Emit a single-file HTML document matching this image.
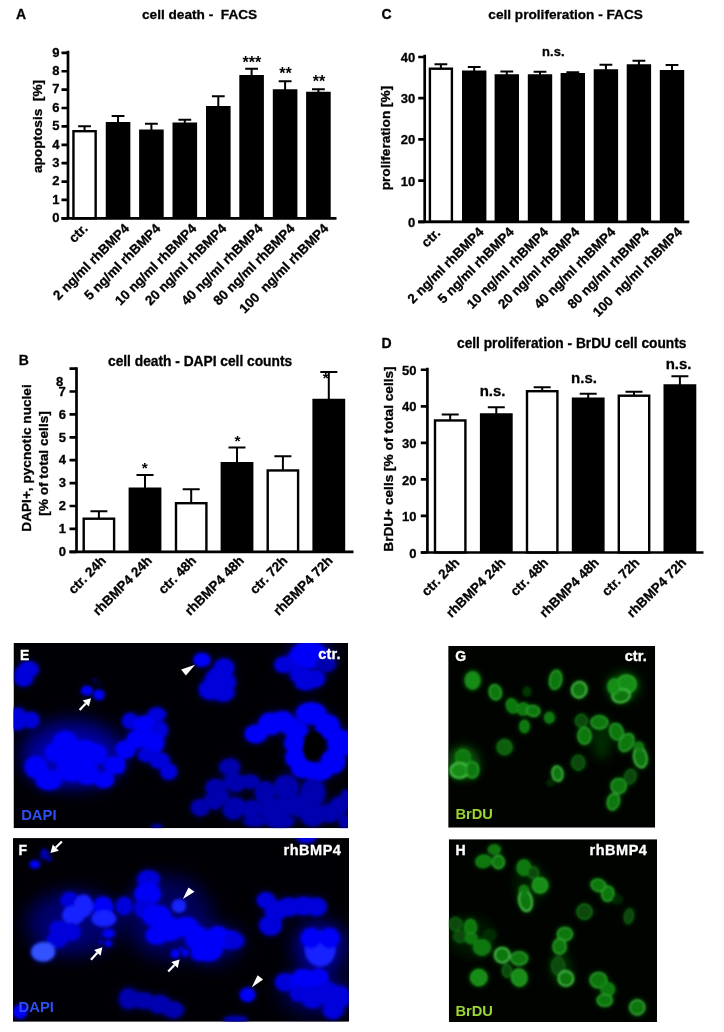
<!DOCTYPE html>
<html lang="en">
<head>
<meta charset="utf-8">
<title>Figure</title>
<style>html,body{margin:0;padding:0;background:#fff}svg{display:block}</style>
</head>
<body>
<svg width="724" height="1032" viewBox="0 0 724 1032" font-family="'Liberation Sans', sans-serif" font-weight="bold">
<defs>
<filter id="b1" x="-50%" y="-50%" width="200%" height="200%"><feGaussianBlur stdDeviation="1.2"/></filter>
<filter id="b08" x="-50%" y="-50%" width="200%" height="200%"><feGaussianBlur stdDeviation="0.9"/></filter>
<filter id="b15" x="-50%" y="-50%" width="200%" height="200%"><feGaussianBlur stdDeviation="1.6"/></filter>
<filter id="b25" x="-50%" y="-50%" width="200%" height="200%"><feGaussianBlur stdDeviation="3.5"/></filter>
<filter id="b2" x="-50%" y="-50%" width="200%" height="200%"><feGaussianBlur stdDeviation="2.5"/></filter>
<filter id="b3" x="-50%" y="-50%" width="200%" height="200%"><feGaussianBlur stdDeviation="5"/></filter>
<filter id="b4" x="-50%" y="-50%" width="200%" height="200%"><feGaussianBlur stdDeviation="9"/></filter>
<filter id="soft" x="-2%" y="-2%" width="104%" height="104%"><feGaussianBlur stdDeviation="0.45"/></filter>
<clipPath id="clipE"><rect x="13.5" y="643" width="334.5" height="185.2"/></clipPath>
<clipPath id="clipF"><rect x="13" y="838.1" width="336" height="183.7"/></clipPath>
<clipPath id="clipG"><rect x="448.2" y="646" width="207" height="181.7"/></clipPath>
<clipPath id="clipH"><rect x="448.8" y="839.2" width="208.2" height="182.9"/></clipPath>
</defs>
<rect width="724" height="1032" fill="#fff"/>
<g filter="url(#soft)">
<text x="16.00" y="18.80" font-size="14" text-anchor="start" fill="#000" stroke="#000" stroke-width="0.3">A</text>
<text x="142.00" y="19.00" font-size="13.65" text-anchor="start" fill="#000" stroke="#000" stroke-width="0.3">cell death -  FACS</text>
<text x="41.60" y="126.50" font-size="13.65" text-anchor="middle" fill="#000" stroke="#000" stroke-width="0.3" transform="rotate(-90 41.60 126.50)">apoptosis  [%]</text>
<path d="M84.55 131.00V126.25M78.15 126.25H90.95" stroke="#000" stroke-width="2" fill="none"/>
<rect x="73.45" y="131.20" width="22.20" height="87.10" fill="#fff" stroke="#000" stroke-width="2.4"/>
<path d="M118.05 123.00V116.00M111.65 116.00H124.45" stroke="#000" stroke-width="2" fill="none"/>
<rect x="105.75" y="122.00" width="24.60" height="96.30" fill="#000"/>
<path d="M151.40 130.50V123.75M145.00 123.75H157.80" stroke="#000" stroke-width="2" fill="none"/>
<rect x="139.10" y="129.50" width="24.60" height="88.80" fill="#000"/>
<path d="M184.80 123.50V119.75M178.40 119.75H191.20" stroke="#000" stroke-width="2" fill="none"/>
<rect x="172.50" y="122.50" width="24.60" height="95.80" fill="#000"/>
<path d="M218.30 107.00V96.25M211.90 96.25H224.70" stroke="#000" stroke-width="2" fill="none"/>
<rect x="206.00" y="106.00" width="24.60" height="112.30" fill="#000"/>
<path d="M251.60 76.00V68.75M245.20 68.75H258.00" stroke="#000" stroke-width="2" fill="none"/>
<rect x="239.30" y="75.00" width="24.60" height="143.30" fill="#000"/>
<path d="M285.10 90.25V81.25M278.70 81.25H291.50" stroke="#000" stroke-width="2" fill="none"/>
<rect x="272.80" y="89.25" width="24.60" height="129.05" fill="#000"/>
<path d="M318.40 92.75V89.25M312.00 89.25H324.80" stroke="#000" stroke-width="2" fill="none"/>
<rect x="306.10" y="91.75" width="24.60" height="126.55" fill="#000"/>
<path d="M68.00 50.65V219.65M61.50 218.30H336.50" stroke="#000" stroke-width="2.7" fill="none"/>
<path d="M61.50 218.30H68.00M61.50 199.92H68.00M61.50 181.54H68.00M61.50 163.16H68.00M61.50 144.78H68.00M61.50 126.40H68.00M61.50 108.02H68.00M61.50 89.64H68.00M61.50 71.26H68.00M61.50 52.88H68.00" stroke="#000" stroke-width="2.7" fill="none"/>
<text x="59.50" y="222.10" font-size="13" text-anchor="end" fill="#000" stroke="#000" stroke-width="0.3">0</text>
<text x="59.50" y="203.72" font-size="13" text-anchor="end" fill="#000" stroke="#000" stroke-width="0.3">1</text>
<text x="59.50" y="185.34" font-size="13" text-anchor="end" fill="#000" stroke="#000" stroke-width="0.3">2</text>
<text x="59.50" y="166.96" font-size="13" text-anchor="end" fill="#000" stroke="#000" stroke-width="0.3">3</text>
<text x="59.50" y="148.58" font-size="13" text-anchor="end" fill="#000" stroke="#000" stroke-width="0.3">4</text>
<text x="59.50" y="130.20" font-size="13" text-anchor="end" fill="#000" stroke="#000" stroke-width="0.3">5</text>
<text x="59.50" y="111.82" font-size="13" text-anchor="end" fill="#000" stroke="#000" stroke-width="0.3">6</text>
<text x="59.50" y="93.44" font-size="13" text-anchor="end" fill="#000" stroke="#000" stroke-width="0.3">7</text>
<text x="59.50" y="75.06" font-size="13" text-anchor="end" fill="#000" stroke="#000" stroke-width="0.3">8</text>
<text x="59.50" y="56.68" font-size="13" text-anchor="end" fill="#000" stroke="#000" stroke-width="0.3">9</text>
<text x="88.55" y="229.30" font-size="13.4" text-anchor="end" fill="#000" stroke="#000" stroke-width="0.3" transform="rotate(-45 88.55 229.30)">ctr.</text>
<text x="130.05" y="229.30" font-size="13.4" text-anchor="end" fill="#000" stroke="#000" stroke-width="0.3" transform="rotate(-45 130.05 229.30)">2 ng/ml rhBMP4</text>
<text x="161.40" y="229.30" font-size="13.4" text-anchor="end" fill="#000" stroke="#000" stroke-width="0.3" transform="rotate(-45 161.40 229.30)">5 ng/ml rhBMP4</text>
<text x="197.40" y="229.30" font-size="13.4" text-anchor="end" fill="#000" stroke="#000" stroke-width="0.3" transform="rotate(-45 197.40 229.30)">10 ng/ml rhBMP4</text>
<text x="227.30" y="229.30" font-size="13.4" text-anchor="end" fill="#000" stroke="#000" stroke-width="0.3" transform="rotate(-45 227.30 229.30)">20 ng/ml rhBMP4</text>
<text x="263.60" y="229.30" font-size="13.4" text-anchor="end" fill="#000" stroke="#000" stroke-width="0.3" transform="rotate(-45 263.60 229.30)">40 ng/ml rhBMP4</text>
<text x="295.50" y="229.30" font-size="13.4" text-anchor="end" fill="#000" stroke="#000" stroke-width="0.3" transform="rotate(-45 295.50 229.30)">80 ng/ml rhBMP4</text>
<text x="329.40" y="229.30" font-size="13.4" text-anchor="end" fill="#000" stroke="#000" stroke-width="0.3" transform="rotate(-45 329.40 229.30)">100  ng/ml rhBMP4</text>
<text x="251.90" y="68.00" font-size="16" text-anchor="middle" fill="#000" stroke="#000" stroke-width="0">***</text>
<text x="285.50" y="79.30" font-size="16" text-anchor="middle" fill="#000" stroke="#000" stroke-width="0">**</text>
<text x="319.00" y="87.30" font-size="16" text-anchor="middle" fill="#000" stroke="#000" stroke-width="0">**</text>
<text x="381.50" y="19.00" font-size="14" text-anchor="start" fill="#000" stroke="#000" stroke-width="0.3">C</text>
<text x="488.30" y="19.20" font-size="13.65" text-anchor="start" fill="#000" stroke="#000" stroke-width="0.3">cell proliferation - FACS</text>
<text x="390.30" y="138.00" font-size="13.65" text-anchor="middle" fill="#000" stroke="#000" stroke-width="0.3" transform="rotate(-90 390.30 138.00)">proliferation [%]</text>
<path d="M440.90 68.50V64.25M434.50 64.25H447.30" stroke="#000" stroke-width="2" fill="none"/>
<rect x="429.90" y="68.70" width="22.00" height="153.10" fill="#fff" stroke="#000" stroke-width="2.4"/>
<path d="M474.20 71.50V67.00M467.80 67.00H480.60" stroke="#000" stroke-width="2" fill="none"/>
<rect x="462.00" y="70.50" width="24.40" height="151.30" fill="#000"/>
<path d="M506.80 75.25V71.50M500.40 71.50H513.20" stroke="#000" stroke-width="2" fill="none"/>
<rect x="494.60" y="74.25" width="24.40" height="147.55" fill="#000"/>
<path d="M540.00 75.25V71.75M533.60 71.75H546.40" stroke="#000" stroke-width="2" fill="none"/>
<rect x="527.80" y="74.25" width="24.40" height="147.55" fill="#000"/>
<path d="M572.80 74.00V72.25M566.40 72.25H579.20" stroke="#000" stroke-width="2" fill="none"/>
<rect x="560.60" y="73.00" width="24.40" height="148.80" fill="#000"/>
<path d="M605.90 70.25V64.75M599.50 64.75H612.30" stroke="#000" stroke-width="2" fill="none"/>
<rect x="593.70" y="69.25" width="24.40" height="152.55" fill="#000"/>
<path d="M638.90 65.25V60.75M632.50 60.75H645.30" stroke="#000" stroke-width="2" fill="none"/>
<rect x="626.70" y="64.25" width="24.40" height="157.55" fill="#000"/>
<path d="M672.00 71.00V65.00M665.60 65.00H678.40" stroke="#000" stroke-width="2" fill="none"/>
<rect x="659.80" y="70.00" width="24.40" height="151.80" fill="#000"/>
<path d="M424.70 54.85V223.15M418.20 221.80H689.30" stroke="#000" stroke-width="2.7" fill="none"/>
<path d="M418.20 221.80H424.70M418.20 180.60H424.70M418.20 139.40H424.70M418.20 98.20H424.70M418.20 57.00H424.70" stroke="#000" stroke-width="2.7" fill="none"/>
<text x="415.20" y="226.70" font-size="13" text-anchor="end" fill="#000" stroke="#000" stroke-width="0.3">0</text>
<text x="415.20" y="185.50" font-size="13" text-anchor="end" fill="#000" stroke="#000" stroke-width="0.3">10</text>
<text x="415.20" y="144.30" font-size="13" text-anchor="end" fill="#000" stroke="#000" stroke-width="0.3">20</text>
<text x="415.20" y="103.10" font-size="13" text-anchor="end" fill="#000" stroke="#000" stroke-width="0.3">30</text>
<text x="415.20" y="61.90" font-size="13" text-anchor="end" fill="#000" stroke="#000" stroke-width="0.3">40</text>
<text x="441.10" y="233.80" font-size="13.4" text-anchor="end" fill="#000" stroke="#000" stroke-width="0.3" transform="rotate(-45 441.10 233.80)">ctr.</text>
<text x="484.60" y="232.80" font-size="13.4" text-anchor="end" fill="#000" stroke="#000" stroke-width="0.3" transform="rotate(-45 484.60 232.80)">2 ng/ml rhBMP4</text>
<text x="514.80" y="232.80" font-size="13.4" text-anchor="end" fill="#000" stroke="#000" stroke-width="0.3" transform="rotate(-45 514.80 232.80)">5 ng/ml rhBMP4</text>
<text x="549.00" y="232.80" font-size="13.4" text-anchor="end" fill="#000" stroke="#000" stroke-width="0.3" transform="rotate(-45 549.00 232.80)">10 ng/ml rhBMP4</text>
<text x="580.40" y="232.80" font-size="13.4" text-anchor="end" fill="#000" stroke="#000" stroke-width="0.3" transform="rotate(-45 580.40 232.80)">20 ng/ml rhBMP4</text>
<text x="616.30" y="232.80" font-size="13.4" text-anchor="end" fill="#000" stroke="#000" stroke-width="0.3" transform="rotate(-45 616.30 232.80)">40 ng/ml rhBMP4</text>
<text x="649.90" y="232.80" font-size="13.4" text-anchor="end" fill="#000" stroke="#000" stroke-width="0.3" transform="rotate(-45 649.90 232.80)">80 ng/ml rhBMP4</text>
<text x="683.00" y="232.80" font-size="13.4" text-anchor="end" fill="#000" stroke="#000" stroke-width="0.3" transform="rotate(-45 683.00 232.80)">100  ng/ml rhBMP4</text>
<text x="553.30" y="56.20" font-size="13" text-anchor="middle" fill="#000" stroke="#000" stroke-width="0.3">n.s.</text>
<text x="18.70" y="365.00" font-size="14" text-anchor="start" fill="#000" stroke="#000" stroke-width="0.3">B</text>
<text x="108.00" y="366.20" font-size="13.75" text-anchor="start" fill="#000" stroke="#000" stroke-width="0.3">cell death - DAPI cell counts</text>
<text x="30.80" y="458.00" font-size="13.65" text-anchor="middle" fill="#000" stroke="#000" stroke-width="0.3" transform="rotate(-90 30.80 458.00)">DAPI+, pycnotic nuclei</text>
<text x="48.30" y="463.50" font-size="13.65" text-anchor="middle" fill="#000" stroke="#000" stroke-width="0.3" transform="rotate(-90 48.30 463.50)">[% of total cells]</text>
<path d="M98.90 518.50V511.25M90.40 511.25H107.40" stroke="#000" stroke-width="2" fill="none"/>
<rect x="83.70" y="518.70" width="30.40" height="33.10" fill="#fff" stroke="#000" stroke-width="2.4"/>
<path d="M145.00 488.50V475.00M136.50 475.00H153.50" stroke="#000" stroke-width="2" fill="none"/>
<rect x="128.60" y="487.50" width="32.80" height="64.30" fill="#000"/>
<path d="M191.20 503.00V489.25M182.70 489.25H199.70" stroke="#000" stroke-width="2" fill="none"/>
<rect x="176.00" y="503.20" width="30.40" height="48.60" fill="#fff" stroke="#000" stroke-width="2.4"/>
<path d="M237.00 463.00V447.50M228.50 447.50H245.50" stroke="#000" stroke-width="2" fill="none"/>
<rect x="220.60" y="462.00" width="32.80" height="89.80" fill="#000"/>
<path d="M282.90 470.25V456.25M274.40 456.25H291.40" stroke="#000" stroke-width="2" fill="none"/>
<rect x="267.70" y="470.45" width="30.40" height="81.35" fill="#fff" stroke="#000" stroke-width="2.4"/>
<path d="M328.80 399.75V372.00M320.30 372.00H337.30" stroke="#000" stroke-width="2" fill="none"/>
<rect x="312.40" y="398.75" width="32.80" height="153.05" fill="#000"/>
<path d="M76.50 367.15V553.15M69.50 551.80H353.50" stroke="#000" stroke-width="2.7" fill="none"/>
<path d="M69.50 551.80H76.50M69.50 528.90H76.50M69.50 506.00H76.50M69.50 483.10H76.50M69.50 460.20H76.50M69.50 437.30H76.50M69.50 414.40H76.50M69.50 391.50H76.50M69.50 368.60H76.50" stroke="#000" stroke-width="2.7" fill="none"/>
<text x="66.00" y="556.00" font-size="13" text-anchor="end" fill="#000" stroke="#000" stroke-width="0.3">0</text>
<text x="66.00" y="533.10" font-size="13" text-anchor="end" fill="#000" stroke="#000" stroke-width="0.3">1</text>
<text x="66.00" y="510.20" font-size="13" text-anchor="end" fill="#000" stroke="#000" stroke-width="0.3">2</text>
<text x="66.00" y="487.30" font-size="13" text-anchor="end" fill="#000" stroke="#000" stroke-width="0.3">3</text>
<text x="66.00" y="464.40" font-size="13" text-anchor="end" fill="#000" stroke="#000" stroke-width="0.3">4</text>
<text x="66.00" y="441.50" font-size="13" text-anchor="end" fill="#000" stroke="#000" stroke-width="0.3">5</text>
<text x="66.00" y="418.60" font-size="13" text-anchor="end" fill="#000" stroke="#000" stroke-width="0.3">6</text>
<text x="65.70" y="396.00" font-size="13" text-anchor="end" fill="#000" stroke="#000" stroke-width="0.3">7</text>
<text x="63.20" y="385.60" font-size="13" text-anchor="end" fill="#000" stroke="#000" stroke-width="0.3">8</text>
<text x="106.80" y="561.50" font-size="13.4" text-anchor="end" fill="#000" stroke="#000" stroke-width="0.3" transform="rotate(-45 106.80 561.50)">ctr. 24h</text>
<text x="152.90" y="561.50" font-size="13.4" text-anchor="end" fill="#000" stroke="#000" stroke-width="0.3" transform="rotate(-45 152.90 561.50)">rhBMP4 24h</text>
<text x="197.00" y="561.50" font-size="13.4" text-anchor="end" fill="#000" stroke="#000" stroke-width="0.3" transform="rotate(-45 197.00 561.50)">ctr. 48h</text>
<text x="244.90" y="561.50" font-size="13.4" text-anchor="end" fill="#000" stroke="#000" stroke-width="0.3" transform="rotate(-45 244.90 561.50)">rhBMP4 48h</text>
<text x="288.30" y="561.50" font-size="13.4" text-anchor="end" fill="#000" stroke="#000" stroke-width="0.3" transform="rotate(-45 288.30 561.50)">ctr. 72h</text>
<text x="333.60" y="561.50" font-size="13.4" text-anchor="end" fill="#000" stroke="#000" stroke-width="0.3" transform="rotate(-45 333.60 561.50)">rhBMP4 72h</text>
<text x="144.80" y="472.80" font-size="15.5" text-anchor="middle" fill="#000" stroke="#000" stroke-width="0">*</text>
<text x="237.40" y="445.50" font-size="15.5" text-anchor="middle" fill="#000" stroke="#000" stroke-width="0">*</text>
<text x="325.80" y="382.70" font-size="15.5" text-anchor="middle" fill="#000" stroke="#000" stroke-width="0">*</text>
<text x="381.50" y="347.50" font-size="14" text-anchor="start" fill="#000" stroke="#000" stroke-width="0.3">D</text>
<text x="457.00" y="348.00" font-size="13.72" text-anchor="start" fill="#000" stroke="#000" stroke-width="0.3">cell proliferation - BrDU cell counts</text>
<text x="393.00" y="459.00" font-size="13.65" text-anchor="middle" fill="#000" stroke="#000" stroke-width="0.3" transform="rotate(-90 393.00 459.00)">BrDU+ cells [% of total cells]</text>
<path d="M450.20 420.25V414.50M441.70 414.50H458.70" stroke="#000" stroke-width="2" fill="none"/>
<rect x="435.00" y="420.45" width="30.40" height="132.05" fill="#fff" stroke="#000" stroke-width="2.4"/>
<path d="M496.30 414.25V407.25M487.80 407.25H504.80" stroke="#000" stroke-width="2" fill="none"/>
<rect x="479.90" y="413.25" width="32.80" height="139.25" fill="#000"/>
<path d="M542.20 391.00V387.25M533.70 387.25H550.70" stroke="#000" stroke-width="2" fill="none"/>
<rect x="527.00" y="391.20" width="30.40" height="161.30" fill="#fff" stroke="#000" stroke-width="2.4"/>
<path d="M588.20 398.50V393.75M579.70 393.75H596.70" stroke="#000" stroke-width="2" fill="none"/>
<rect x="571.80" y="397.50" width="32.80" height="155.00" fill="#000"/>
<path d="M634.00 395.50V391.75M625.50 391.75H642.50" stroke="#000" stroke-width="2" fill="none"/>
<rect x="618.80" y="395.70" width="30.40" height="156.80" fill="#fff" stroke="#000" stroke-width="2.4"/>
<path d="M679.90 385.25V376.25M671.40 376.25H688.40" stroke="#000" stroke-width="2" fill="none"/>
<rect x="663.50" y="384.25" width="32.80" height="168.25" fill="#000"/>
<path d="M427.40 367.65V553.85M420.80 552.50H703.50" stroke="#000" stroke-width="2.7" fill="none"/>
<path d="M420.80 552.50H427.40M420.80 515.95H427.40M420.80 479.40H427.40M420.80 442.85H427.40M420.80 406.30H427.40M420.80 369.75H427.40" stroke="#000" stroke-width="2.7" fill="none"/>
<text x="416.40" y="557.60" font-size="13" text-anchor="end" fill="#000" stroke="#000" stroke-width="0.3">0</text>
<text x="416.40" y="521.05" font-size="13" text-anchor="end" fill="#000" stroke="#000" stroke-width="0.3">10</text>
<text x="416.40" y="484.50" font-size="13" text-anchor="end" fill="#000" stroke="#000" stroke-width="0.3">20</text>
<text x="416.40" y="447.95" font-size="13" text-anchor="end" fill="#000" stroke="#000" stroke-width="0.3">30</text>
<text x="416.40" y="411.40" font-size="13" text-anchor="end" fill="#000" stroke="#000" stroke-width="0.3">40</text>
<text x="416.40" y="374.85" font-size="13" text-anchor="end" fill="#000" stroke="#000" stroke-width="0.3">50</text>
<text x="460.20" y="563.50" font-size="13.4" text-anchor="end" fill="#000" stroke="#000" stroke-width="0.3" transform="rotate(-45 460.20 563.50)">ctr. 24h</text>
<text x="506.30" y="563.50" font-size="13.4" text-anchor="end" fill="#000" stroke="#000" stroke-width="0.3" transform="rotate(-45 506.30 563.50)">rhBMP4 24h</text>
<text x="549.00" y="563.50" font-size="13.4" text-anchor="end" fill="#000" stroke="#000" stroke-width="0.3" transform="rotate(-45 549.00 563.50)">ctr. 48h</text>
<text x="599.80" y="563.50" font-size="13.4" text-anchor="end" fill="#000" stroke="#000" stroke-width="0.3" transform="rotate(-45 599.80 563.50)">rhBMP4 48h</text>
<text x="640.40" y="563.50" font-size="13.4" text-anchor="end" fill="#000" stroke="#000" stroke-width="0.3" transform="rotate(-45 640.40 563.50)">ctr. 72h</text>
<text x="687.10" y="563.50" font-size="13.4" text-anchor="end" fill="#000" stroke="#000" stroke-width="0.3" transform="rotate(-45 687.10 563.50)">rhBMP4 72h</text>
<text x="492.60" y="396.30" font-size="15" text-anchor="middle" fill="#000" stroke="#000" stroke-width="0.3">n.s.</text>
<text x="584.00" y="383.30" font-size="15" text-anchor="middle" fill="#000" stroke="#000" stroke-width="0.3">n.s.</text>
<text x="678.60" y="369.30" font-size="15" text-anchor="middle" fill="#000" stroke="#000" stroke-width="0.3">n.s.</text>
</g>
<g clip-path="url(#clipE)">
<rect x="13.5" y="643" width="334.5" height="185.2" fill="#000004"/>
<g filter="url(#b4)">
<ellipse cx="72.6" cy="754.1" rx="51.5" ry="34.1" fill="#0204a0" fill-opacity="0.9"/>
<ellipse cx="72.6" cy="761.5" rx="36.8" ry="20.2" fill="#0306e8" fill-opacity="0.5"/>
<ellipse cx="311.0" cy="652.9" rx="20.2" ry="12.9" fill="#0306e8" fill-opacity="0.5"/>
</g>
<g filter="url(#b25)">
<ellipse cx="23.8" cy="678.7" rx="10.8" ry="9.1" fill="#0000a4" fill-opacity="0.4"/>
<ellipse cx="28.4" cy="669.4" rx="12.0" ry="9.6" fill="#0000a4" fill-opacity="0.4"/>
<ellipse cx="21.0" cy="673.1" rx="7.2" ry="7.2" fill="#0000a4" fill-opacity="0.4"/>
<ellipse cx="86.9" cy="690.6" rx="6.8" ry="5.7" fill="#0000a4" fill-opacity="0.4"/>
<ellipse cx="98.9" cy="694.7" rx="6.5" ry="6.0" fill="#0000a4" fill-opacity="0.4"/>
<ellipse cx="94.7" cy="680.1" rx="2.0" ry="2.0" fill="#0000a4" fill-opacity="0.4"/>
<ellipse cx="100.2" cy="683.8" rx="1.2" ry="1.2" fill="#0000a4" fill-opacity="0.4"/>
<ellipse cx="17.4" cy="719.1" rx="12.0" ry="13.1" fill="#0000a4" fill-opacity="0.4"/>
<ellipse cx="31.2" cy="720.1" rx="9.6" ry="9.6" fill="#0000a4" fill-opacity="0.4"/>
<ellipse cx="35.8" cy="767.0" rx="13.1" ry="13.1" fill="#0000a4" fill-opacity="0.4"/>
<ellipse cx="48.7" cy="779.9" rx="15.6" ry="12.0" fill="#0000a4" fill-opacity="0.4"/>
<ellipse cx="56.0" cy="752.3" rx="13.1" ry="12.0" fill="#0000a4" fill-opacity="0.4"/>
<ellipse cx="65.2" cy="741.2" rx="14.3" ry="12.0" fill="#0000a4" fill-opacity="0.4"/>
<ellipse cx="70.7" cy="767.0" rx="16.8" ry="16.8" fill="#0000a4" fill-opacity="0.4"/>
<ellipse cx="83.6" cy="754.1" rx="19.1" ry="16.8" fill="#0000a4" fill-opacity="0.4"/>
<ellipse cx="96.5" cy="754.1" rx="12.0" ry="12.0" fill="#0000a4" fill-opacity="0.4"/>
<ellipse cx="87.3" cy="774.4" rx="14.3" ry="12.0" fill="#0000a4" fill-opacity="0.4"/>
<ellipse cx="103.9" cy="779.9" rx="12.0" ry="9.6" fill="#0000a4" fill-opacity="0.4"/>
<ellipse cx="114.0" cy="765.2" rx="12.0" ry="10.8" fill="#0000a4" fill-opacity="0.4"/>
<ellipse cx="201.9" cy="659.9" rx="10.0" ry="8.3" fill="#0000a4" fill-opacity="0.4"/>
<ellipse cx="224.0" cy="667.6" rx="12.0" ry="10.8" fill="#0000a4" fill-opacity="0.4"/>
<ellipse cx="219.4" cy="679.6" rx="16.8" ry="14.3" fill="#0000a4" fill-opacity="0.4"/>
<ellipse cx="210.2" cy="689.7" rx="13.1" ry="12.0" fill="#0000a4" fill-opacity="0.4"/>
<ellipse cx="223.1" cy="692.5" rx="13.1" ry="10.8" fill="#0000a4" fill-opacity="0.4"/>
<ellipse cx="229.5" cy="682.3" rx="7.2" ry="7.2" fill="#0000a4" fill-opacity="0.4"/>
<ellipse cx="130.1" cy="721.0" rx="9.6" ry="9.6" fill="#0000a4" fill-opacity="0.4"/>
<ellipse cx="156.8" cy="714.5" rx="10.8" ry="8.3" fill="#0000a4" fill-opacity="0.4"/>
<ellipse cx="144.8" cy="726.5" rx="13.1" ry="13.1" fill="#0000a4" fill-opacity="0.4"/>
<ellipse cx="159.6" cy="730.2" rx="9.6" ry="10.8" fill="#0000a4" fill-opacity="0.4"/>
<ellipse cx="136.6" cy="739.4" rx="12.0" ry="10.8" fill="#0000a4" fill-opacity="0.4"/>
<ellipse cx="153.1" cy="743.1" rx="13.1" ry="12.0" fill="#0000a4" fill-opacity="0.4"/>
<ellipse cx="125.5" cy="749.5" rx="12.0" ry="10.8" fill="#0000a4" fill-opacity="0.4"/>
<ellipse cx="145.8" cy="755.0" rx="9.6" ry="8.3" fill="#0000a4" fill-opacity="0.4"/>
<ellipse cx="159.6" cy="760.6" rx="12.0" ry="9.6" fill="#0000a4" fill-opacity="0.4"/>
<ellipse cx="168.8" cy="771.6" rx="10.0" ry="9.6" fill="#0000a4" fill-opacity="0.4"/>
<ellipse cx="120.9" cy="765.2" rx="4.8" ry="9.6" fill="#0000a4" fill-opacity="0.4"/>
<ellipse cx="229.5" cy="767.0" rx="12.0" ry="9.6" fill="#0000a4" fill-opacity="0.4"/>
<ellipse cx="234.1" cy="781.7" rx="12.0" ry="9.6" fill="#0000a4" fill-opacity="0.4"/>
<ellipse cx="215.7" cy="787.2" rx="12.0" ry="9.6" fill="#0000a4" fill-opacity="0.4"/>
<ellipse cx="213.9" cy="800.1" rx="10.8" ry="10.8" fill="#0000a4" fill-opacity="0.4"/>
<ellipse cx="200.1" cy="807.5" rx="10.8" ry="10.0" fill="#0000a4" fill-opacity="0.4"/>
<ellipse cx="233.2" cy="809.3" rx="12.0" ry="12.0" fill="#0000a4" fill-opacity="0.4"/>
<ellipse cx="223.1" cy="796.5" rx="7.2" ry="7.2" fill="#0000a4" fill-opacity="0.4"/>
<ellipse cx="156.8" cy="826.3" rx="7.2" ry="2.3" fill="#0000a4" fill-opacity="0.4"/>
<ellipse cx="283.4" cy="664.8" rx="10.8" ry="9.6" fill="#0000a4" fill-opacity="0.4"/>
<ellipse cx="296.3" cy="660.2" rx="12.0" ry="10.8" fill="#0000a4" fill-opacity="0.4"/>
<ellipse cx="309.1" cy="654.7" rx="21.6" ry="15.6" fill="#0000a4" fill-opacity="0.4"/>
<ellipse cx="299.9" cy="674.1" rx="12.0" ry="10.8" fill="#0000a4" fill-opacity="0.4"/>
<ellipse cx="312.8" cy="678.7" rx="14.3" ry="10.8" fill="#0000a4" fill-opacity="0.4"/>
<ellipse cx="305.5" cy="684.2" rx="12.0" ry="7.2" fill="#0000a4" fill-opacity="0.4"/>
<ellipse cx="325.7" cy="663.9" rx="12.0" ry="9.6" fill="#0000a4" fill-opacity="0.4"/>
<ellipse cx="255.8" cy="733.9" rx="13.1" ry="10.8" fill="#0000a4" fill-opacity="0.4"/>
<ellipse cx="270.5" cy="723.7" rx="14.3" ry="13.1" fill="#0000a4" fill-opacity="0.4"/>
<ellipse cx="282.5" cy="721.0" rx="13.1" ry="12.0" fill="#0000a4" fill-opacity="0.4"/>
<ellipse cx="290.7" cy="726.5" rx="12.0" ry="10.8" fill="#0000a4" fill-opacity="0.4"/>
<ellipse cx="311.0" cy="713.6" rx="17.9" ry="13.1" fill="#0000a4" fill-opacity="0.4"/>
<ellipse cx="327.6" cy="726.5" rx="14.3" ry="14.3" fill="#0000a4" fill-opacity="0.4"/>
<ellipse cx="338.6" cy="743.1" rx="13.1" ry="16.8" fill="#0000a4" fill-opacity="0.4"/>
<ellipse cx="333.1" cy="761.5" rx="14.3" ry="14.3" fill="#0000a4" fill-opacity="0.4"/>
<ellipse cx="318.3" cy="771.6" rx="16.8" ry="10.8" fill="#0000a4" fill-opacity="0.4"/>
<ellipse cx="303.6" cy="768.8" rx="14.3" ry="10.8" fill="#0000a4" fill-opacity="0.4"/>
<ellipse cx="295.3" cy="757.8" rx="12.0" ry="12.0" fill="#0000a4" fill-opacity="0.4"/>
<ellipse cx="294.4" cy="743.1" rx="12.0" ry="12.0" fill="#0000a4" fill-opacity="0.4"/>
<ellipse cx="300.9" cy="730.2" rx="8.3" ry="8.3" fill="#0000a4" fill-opacity="0.4"/>
<ellipse cx="347.8" cy="743.1" rx="7.2" ry="14.3" fill="#0000a4" fill-opacity="0.4"/>
<ellipse cx="231.8" cy="768.8" rx="7.2" ry="10.8" fill="#0000a4" fill-opacity="0.4"/>
<ellipse cx="235.5" cy="783.6" rx="10.8" ry="9.6" fill="#0000a4" fill-opacity="0.4"/>
<ellipse cx="250.2" cy="781.7" rx="10.8" ry="8.3" fill="#0000a4" fill-opacity="0.4"/>
<ellipse cx="235.5" cy="805.7" rx="10.8" ry="9.6" fill="#0000a4" fill-opacity="0.4"/>
<ellipse cx="252.1" cy="809.3" rx="12.0" ry="10.8" fill="#0000a4" fill-opacity="0.4"/>
<ellipse cx="265.0" cy="792.8" rx="12.0" ry="13.1" fill="#0000a4" fill-opacity="0.4"/>
<ellipse cx="271.4" cy="809.3" rx="13.1" ry="13.1" fill="#0000a4" fill-opacity="0.4"/>
<ellipse cx="286.1" cy="787.2" rx="14.3" ry="14.3" fill="#0000a4" fill-opacity="0.4"/>
<ellipse cx="285.2" cy="805.7" rx="13.1" ry="12.0" fill="#0000a4" fill-opacity="0.4"/>
<ellipse cx="299.9" cy="805.7" rx="13.1" ry="13.1" fill="#0000a4" fill-opacity="0.4"/>
<ellipse cx="312.8" cy="792.8" rx="14.3" ry="16.8" fill="#0000a4" fill-opacity="0.4"/>
<ellipse cx="312.8" cy="814.9" rx="14.3" ry="13.1" fill="#0000a4" fill-opacity="0.4"/>
<ellipse cx="329.4" cy="813.0" rx="13.1" ry="10.8" fill="#0000a4" fill-opacity="0.4"/>
<ellipse cx="339.5" cy="805.7" rx="10.8" ry="10.8" fill="#0000a4" fill-opacity="0.4"/>
<ellipse cx="346.0" cy="796.5" rx="6.0" ry="8.3" fill="#0000a4" fill-opacity="0.4"/>
<ellipse cx="344.1" cy="821.3" rx="6.0" ry="8.3" fill="#0000a4" fill-opacity="0.4"/>
<ellipse cx="279.7" cy="821.3" rx="16.8" ry="8.3" fill="#0000a4" fill-opacity="0.4"/>
<ellipse cx="254.8" cy="821.3" rx="13.1" ry="6.0" fill="#0000a4" fill-opacity="0.4"/>
</g>
<g filter="url(#b15)">
<ellipse cx="23.8" cy="678.7" rx="9.3" ry="7.8" fill="#0101da"/>
<ellipse cx="28.4" cy="669.4" rx="10.3" ry="8.3" fill="#0101da"/>
<ellipse cx="21.0" cy="673.1" rx="6.2" ry="6.2" fill="#0101da"/>
<ellipse cx="86.9" cy="690.6" rx="5.8" ry="4.9" fill="#0303f8"/>
<ellipse cx="98.9" cy="694.7" rx="5.6" ry="5.2" fill="#0303f8"/>
<ellipse cx="94.7" cy="680.1" rx="1.7" ry="1.7" fill="#0000ae"/>
<ellipse cx="100.2" cy="683.8" rx="1.0" ry="1.0" fill="#0000ae"/>
<ellipse cx="17.4" cy="719.1" rx="10.3" ry="11.3" fill="#0101da"/>
<ellipse cx="31.2" cy="720.1" rx="8.3" ry="8.3" fill="#0101da"/>
<ellipse cx="35.8" cy="767.0" rx="11.3" ry="11.3" fill="#0303f8"/>
<ellipse cx="48.7" cy="779.9" rx="13.4" ry="10.3" fill="#0303f8"/>
<ellipse cx="56.0" cy="752.3" rx="11.3" ry="10.3" fill="#0303f8"/>
<ellipse cx="65.2" cy="741.2" rx="12.3" ry="10.3" fill="#0303f8"/>
<ellipse cx="70.7" cy="767.0" rx="14.4" ry="14.4" fill="#0303f8"/>
<ellipse cx="83.6" cy="754.1" rx="16.5" ry="14.4" fill="#0303f8"/>
<ellipse cx="96.5" cy="754.1" rx="10.3" ry="10.3" fill="#0303f8"/>
<ellipse cx="87.3" cy="774.4" rx="12.3" ry="10.3" fill="#0303f8"/>
<ellipse cx="103.9" cy="779.9" rx="10.3" ry="8.3" fill="#0303f8"/>
<ellipse cx="114.0" cy="765.2" rx="10.3" ry="9.3" fill="#0303f8"/>
<ellipse cx="201.9" cy="659.9" rx="8.6" ry="7.2" fill="#0303f8"/>
<ellipse cx="224.0" cy="667.6" rx="10.3" ry="9.3" fill="#0101da"/>
<ellipse cx="219.4" cy="679.6" rx="14.4" ry="12.3" fill="#0101da"/>
<ellipse cx="210.2" cy="689.7" rx="11.3" ry="10.3" fill="#0101da"/>
<ellipse cx="223.1" cy="692.5" rx="11.3" ry="9.3" fill="#0101da"/>
<ellipse cx="229.5" cy="682.3" rx="6.2" ry="6.2" fill="#0101da"/>
<ellipse cx="130.1" cy="721.0" rx="8.3" ry="8.3" fill="#0101da"/>
<ellipse cx="156.8" cy="714.5" rx="9.3" ry="7.2" fill="#0101da"/>
<ellipse cx="144.8" cy="726.5" rx="11.3" ry="11.3" fill="#0303f8"/>
<ellipse cx="159.6" cy="730.2" rx="8.3" ry="9.3" fill="#0101da"/>
<ellipse cx="136.6" cy="739.4" rx="10.3" ry="9.3" fill="#0303f8"/>
<ellipse cx="153.1" cy="743.1" rx="11.3" ry="10.3" fill="#0303f8"/>
<ellipse cx="125.5" cy="749.5" rx="10.3" ry="9.3" fill="#0303f8"/>
<ellipse cx="145.8" cy="755.0" rx="8.3" ry="7.2" fill="#0101da"/>
<ellipse cx="159.6" cy="760.6" rx="10.3" ry="8.3" fill="#0101da"/>
<ellipse cx="168.8" cy="771.6" rx="8.6" ry="8.3" fill="#0101da"/>
<ellipse cx="120.9" cy="765.2" rx="4.1" ry="8.3" fill="#0303f8"/>
<ellipse cx="229.5" cy="767.0" rx="10.3" ry="8.3" fill="#0000ae"/>
<ellipse cx="234.1" cy="781.7" rx="10.3" ry="8.3" fill="#0000ae"/>
<ellipse cx="215.7" cy="787.2" rx="10.3" ry="8.3" fill="#0000ae"/>
<ellipse cx="213.9" cy="800.1" rx="9.3" ry="9.3" fill="#0000ae"/>
<ellipse cx="200.1" cy="807.5" rx="9.3" ry="8.6" fill="#0000ae"/>
<ellipse cx="233.2" cy="809.3" rx="10.3" ry="10.3" fill="#0000ae"/>
<ellipse cx="223.1" cy="796.5" rx="6.2" ry="6.2" fill="#0000ae"/>
<ellipse cx="156.8" cy="826.3" rx="6.2" ry="2.0" fill="#0000ae"/>
<ellipse cx="283.4" cy="664.8" rx="9.3" ry="8.3" fill="#0101da"/>
<ellipse cx="296.3" cy="660.2" rx="10.3" ry="9.3" fill="#0101da"/>
<ellipse cx="309.1" cy="654.7" rx="18.6" ry="13.4" fill="#0303f8"/>
<ellipse cx="299.9" cy="674.1" rx="10.3" ry="9.3" fill="#0101da"/>
<ellipse cx="312.8" cy="678.7" rx="12.3" ry="9.3" fill="#0101da"/>
<ellipse cx="305.5" cy="684.2" rx="10.3" ry="6.2" fill="#0101da"/>
<ellipse cx="325.7" cy="663.9" rx="10.3" ry="8.3" fill="#0000ae"/>
<ellipse cx="255.8" cy="733.9" rx="11.3" ry="9.3" fill="#0303f8"/>
<ellipse cx="270.5" cy="723.7" rx="12.3" ry="11.3" fill="#0303f8"/>
<ellipse cx="282.5" cy="721.0" rx="11.3" ry="10.3" fill="#0303f8"/>
<ellipse cx="290.7" cy="726.5" rx="10.3" ry="9.3" fill="#0303f8"/>
<ellipse cx="311.0" cy="713.6" rx="15.5" ry="11.3" fill="#0303f8"/>
<ellipse cx="327.6" cy="726.5" rx="12.3" ry="12.3" fill="#0303f8"/>
<ellipse cx="338.6" cy="743.1" rx="11.3" ry="14.4" fill="#0303f8"/>
<ellipse cx="333.1" cy="761.5" rx="12.3" ry="12.3" fill="#0303f8"/>
<ellipse cx="318.3" cy="771.6" rx="14.4" ry="9.3" fill="#0303f8"/>
<ellipse cx="303.6" cy="768.8" rx="12.3" ry="9.3" fill="#0303f8"/>
<ellipse cx="295.3" cy="757.8" rx="10.3" ry="10.3" fill="#0303f8"/>
<ellipse cx="294.4" cy="743.1" rx="10.3" ry="10.3" fill="#0303f8"/>
<ellipse cx="300.9" cy="730.2" rx="7.2" ry="7.2" fill="#0303f8"/>
<ellipse cx="347.8" cy="743.1" rx="6.2" ry="12.3" fill="#0303f8"/>
<ellipse cx="231.8" cy="768.8" rx="6.2" ry="9.3" fill="#0000ae"/>
<ellipse cx="235.5" cy="783.6" rx="9.3" ry="8.3" fill="#0000ae"/>
<ellipse cx="250.2" cy="781.7" rx="9.3" ry="7.2" fill="#0000ae"/>
<ellipse cx="235.5" cy="805.7" rx="9.3" ry="8.3" fill="#0000ae"/>
<ellipse cx="252.1" cy="809.3" rx="10.3" ry="9.3" fill="#0000ae"/>
<ellipse cx="265.0" cy="792.8" rx="10.3" ry="11.3" fill="#0000ae"/>
<ellipse cx="271.4" cy="809.3" rx="11.3" ry="11.3" fill="#0000ae"/>
<ellipse cx="286.1" cy="787.2" rx="12.3" ry="12.3" fill="#0000ae"/>
<ellipse cx="285.2" cy="805.7" rx="11.3" ry="10.3" fill="#0000ae"/>
<ellipse cx="299.9" cy="805.7" rx="11.3" ry="11.3" fill="#0000ae"/>
<ellipse cx="312.8" cy="792.8" rx="12.3" ry="14.4" fill="#0000ae"/>
<ellipse cx="312.8" cy="814.9" rx="12.3" ry="11.3" fill="#0000ae"/>
<ellipse cx="329.4" cy="813.0" rx="11.3" ry="9.3" fill="#0000ae"/>
<ellipse cx="339.5" cy="805.7" rx="9.3" ry="9.3" fill="#0000ae"/>
<ellipse cx="346.0" cy="796.5" rx="5.2" ry="7.2" fill="#0000ae"/>
<ellipse cx="344.1" cy="821.3" rx="5.2" ry="7.2" fill="#0000ae"/>
<ellipse cx="279.7" cy="821.3" rx="14.4" ry="7.2" fill="#0000ae"/>
<ellipse cx="254.8" cy="821.3" rx="11.3" ry="5.2" fill="#0000ae"/>
</g>
<g filter="url(#b15)">
<ellipse cx="313.7" cy="745.8" rx="9.6" ry="14.4" fill="#000" transform="rotate(15 313.7 745.8)"/>
</g>
</g>
<g filter="url(#soft)">
<text x="19.90" y="660.00" font-size="14" text-anchor="start" fill="#fff" stroke="#fff" stroke-width="0.3">E</text>
<text x="340.60" y="658.60" font-size="14.5" text-anchor="end" fill="#fff" stroke="#fff" stroke-width="0.3" letter-spacing="0.15">ctr.</text>
<text x="21.20" y="819.50" font-size="14.8" text-anchor="start" fill="#2d4ff0" stroke="#2d4ff0" stroke-width="0">DAPI</text>
<path d="M79.6 709.9L85.8 703.5" stroke="#fff" stroke-width="2.2" fill="none"/><path d="M91.0 698.2L88.9 706.6L82.6 700.5Z" fill="#fff"/>
<path d="M195.1 664.8L181.1 669.4L185.9 675.5Z" fill="#fff"/>
</g>
<g clip-path="url(#clipF)">
<rect x="13" y="838.1" width="336" height="183.7" fill="#000004"/>
<g filter="url(#b4)">
<ellipse cx="72.6" cy="923.3" rx="46.0" ry="32.2" fill="#020490" fill-opacity="0.75"/>
<ellipse cx="167.9" cy="917.8" rx="44.2" ry="42.3" fill="#020490" fill-opacity="0.6"/>
<ellipse cx="212.0" cy="943.6" rx="29.4" ry="20.2" fill="#020490" fill-opacity="0.6"/>
<ellipse cx="320.2" cy="947.3" rx="27.6" ry="25.8" fill="#0306a8" fill-opacity="0.8"/>
<ellipse cx="316.5" cy="993.3" rx="36.8" ry="23.9" fill="#020490" fill-opacity="0.5"/>
</g>
<g filter="url(#b25)">
<ellipse cx="34.8" cy="864.4" rx="6.0" ry="4.8" fill="#0000a4" fill-opacity="0.4"/>
<ellipse cx="44.6" cy="854.3" rx="4.8" ry="6.0" fill="#0000a4" fill-opacity="0.4"/>
<ellipse cx="49.6" cy="858.9" rx="2.3" ry="2.9" fill="#0000a4" fill-opacity="0.4"/>
<ellipse cx="69.8" cy="900.3" rx="10.8" ry="9.6" fill="#0000a4" fill-opacity="0.4"/>
<ellipse cx="83.6" cy="905.9" rx="10.8" ry="13.1" fill="#0000a4" fill-opacity="0.4"/>
<ellipse cx="73.5" cy="915.1" rx="13.1" ry="10.8" fill="#0000a4" fill-opacity="0.4"/>
<ellipse cx="103.0" cy="907.7" rx="12.0" ry="13.1" fill="#0000a4" fill-opacity="0.4"/>
<ellipse cx="103.9" cy="918.7" rx="14.3" ry="9.6" fill="#0000a4" fill-opacity="0.4"/>
<ellipse cx="124.1" cy="905.9" rx="9.6" ry="10.8" fill="#0000a4" fill-opacity="0.4"/>
<ellipse cx="58.8" cy="928.9" rx="10.8" ry="9.6" fill="#0000a4" fill-opacity="0.4"/>
<ellipse cx="56.9" cy="939.9" rx="12.0" ry="9.6" fill="#0000a4" fill-opacity="0.4"/>
<ellipse cx="70.7" cy="931.6" rx="12.0" ry="10.8" fill="#0000a4" fill-opacity="0.4"/>
<ellipse cx="43.1" cy="951.9" rx="13.9" ry="11.4" fill="#0000a4" fill-opacity="0.4"/>
<ellipse cx="108.5" cy="933.5" rx="7.2" ry="5.2" fill="#0000a4" fill-opacity="0.4"/>
<ellipse cx="108.5" cy="943.6" rx="4.3" ry="3.6" fill="#0000a4" fill-opacity="0.4"/>
<ellipse cx="101.1" cy="942.1" rx="2.3" ry="2.3" fill="#0000a4" fill-opacity="0.4"/>
<ellipse cx="127.8" cy="998.8" rx="9.6" ry="12.0" fill="#0000a4" fill-opacity="0.4"/>
<ellipse cx="20.1" cy="1011.7" rx="8.3" ry="8.3" fill="#0000a4" fill-opacity="0.4"/>
<ellipse cx="148.5" cy="879.2" rx="13.1" ry="10.8" fill="#0000a4" fill-opacity="0.4"/>
<ellipse cx="147.6" cy="893.9" rx="15.6" ry="13.1" fill="#0000a4" fill-opacity="0.4"/>
<ellipse cx="143.9" cy="908.6" rx="12.0" ry="10.8" fill="#0000a4" fill-opacity="0.4"/>
<ellipse cx="156.8" cy="916.0" rx="16.8" ry="13.1" fill="#0000a4" fill-opacity="0.4"/>
<ellipse cx="167.9" cy="928.9" rx="19.1" ry="14.3" fill="#0000a4" fill-opacity="0.4"/>
<ellipse cx="156.8" cy="935.3" rx="13.1" ry="10.8" fill="#0000a4" fill-opacity="0.4"/>
<ellipse cx="186.3" cy="927.0" rx="14.3" ry="12.0" fill="#0000a4" fill-opacity="0.4"/>
<ellipse cx="197.3" cy="938.1" rx="14.3" ry="14.3" fill="#0000a4" fill-opacity="0.4"/>
<ellipse cx="208.3" cy="949.1" rx="16.8" ry="14.3" fill="#0000a4" fill-opacity="0.4"/>
<ellipse cx="199.1" cy="952.8" rx="9.6" ry="9.6" fill="#0000a4" fill-opacity="0.4"/>
<ellipse cx="217.6" cy="936.2" rx="13.1" ry="12.0" fill="#0000a4" fill-opacity="0.4"/>
<ellipse cx="230.4" cy="939.9" rx="13.1" ry="10.8" fill="#0000a4" fill-opacity="0.4"/>
<ellipse cx="178.9" cy="905.9" rx="8.3" ry="7.9" fill="#0000a4" fill-opacity="0.4"/>
<ellipse cx="175.2" cy="953.7" rx="5.2" ry="5.2" fill="#0000a4" fill-opacity="0.4"/>
<ellipse cx="180.7" cy="949.1" rx="2.3" ry="2.3" fill="#0000a4" fill-opacity="0.4"/>
<ellipse cx="185.3" cy="952.8" rx="3.6" ry="4.8" fill="#0000a4" fill-opacity="0.4"/>
<ellipse cx="130.1" cy="998.8" rx="12.0" ry="10.8" fill="#0000a4" fill-opacity="0.4"/>
<ellipse cx="143.9" cy="1000.7" rx="12.0" ry="9.6" fill="#0000a4" fill-opacity="0.4"/>
<ellipse cx="159.6" cy="1004.3" rx="13.1" ry="10.8" fill="#0000a4" fill-opacity="0.4"/>
<ellipse cx="173.4" cy="1009.9" rx="12.0" ry="9.6" fill="#0000a4" fill-opacity="0.4"/>
<ellipse cx="236.0" cy="1019.4" rx="9.6" ry="3.6" fill="#0000a4" fill-opacity="0.4"/>
<ellipse cx="233.7" cy="940.8" rx="12.0" ry="9.6" fill="#0000a4" fill-opacity="0.4"/>
<ellipse cx="265.9" cy="900.3" rx="10.8" ry="9.6" fill="#0000a4" fill-opacity="0.4"/>
<ellipse cx="276.0" cy="910.5" rx="13.1" ry="12.0" fill="#0000a4" fill-opacity="0.4"/>
<ellipse cx="270.5" cy="925.2" rx="13.1" ry="12.0" fill="#0000a4" fill-opacity="0.4"/>
<ellipse cx="288.9" cy="906.8" rx="13.1" ry="10.8" fill="#0000a4" fill-opacity="0.4"/>
<ellipse cx="303.6" cy="905.9" rx="14.3" ry="10.8" fill="#0000a4" fill-opacity="0.4"/>
<ellipse cx="316.5" cy="906.8" rx="12.0" ry="10.8" fill="#0000a4" fill-opacity="0.4"/>
<ellipse cx="320.2" cy="949.1" rx="17.9" ry="20.3" fill="#0000a4" fill-opacity="0.4"/>
<ellipse cx="311.0" cy="938.1" rx="12.0" ry="12.0" fill="#0000a4" fill-opacity="0.4"/>
<ellipse cx="329.4" cy="938.1" rx="12.0" ry="12.0" fill="#0000a4" fill-opacity="0.4"/>
<ellipse cx="285.2" cy="982.2" rx="12.0" ry="10.8" fill="#0000a4" fill-opacity="0.4"/>
<ellipse cx="302.7" cy="980.4" rx="14.3" ry="13.1" fill="#0000a4" fill-opacity="0.4"/>
<ellipse cx="318.3" cy="978.6" rx="12.0" ry="12.0" fill="#0000a4" fill-opacity="0.4"/>
<ellipse cx="312.8" cy="997.0" rx="14.3" ry="13.1" fill="#0000a4" fill-opacity="0.4"/>
<ellipse cx="327.6" cy="993.3" rx="14.3" ry="13.1" fill="#0000a4" fill-opacity="0.4"/>
<ellipse cx="340.4" cy="997.0" rx="10.8" ry="13.1" fill="#0000a4" fill-opacity="0.4"/>
<ellipse cx="333.1" cy="1009.9" rx="12.0" ry="10.8" fill="#0000a4" fill-opacity="0.4"/>
<ellipse cx="298.1" cy="993.3" rx="9.6" ry="9.6" fill="#0000a4" fill-opacity="0.4"/>
<ellipse cx="247.5" cy="994.8" rx="9.1" ry="8.3" fill="#0000a4" fill-opacity="0.4"/>
<ellipse cx="306.4" cy="838.3" rx="11.4" ry="5.7" fill="#0000a4" fill-opacity="0.4"/>
<ellipse cx="235.5" cy="1019.4" rx="14.3" ry="3.6" fill="#0000a4" fill-opacity="0.4"/>
</g>
<g filter="url(#b15)">
<ellipse cx="34.8" cy="864.4" rx="5.2" ry="4.1" fill="#0303f8"/>
<ellipse cx="44.6" cy="854.3" rx="4.1" ry="5.2" fill="#0000ae"/>
<ellipse cx="49.6" cy="858.9" rx="2.0" ry="2.5" fill="#0000ae"/>
<ellipse cx="69.8" cy="900.3" rx="9.3" ry="8.3" fill="#0101da"/>
<ellipse cx="83.6" cy="905.9" rx="9.3" ry="11.3" fill="#1424ff"/>
<ellipse cx="73.5" cy="915.1" rx="11.3" ry="9.3" fill="#1424ff"/>
<ellipse cx="103.0" cy="907.7" rx="10.3" ry="11.3" fill="#0303f8"/>
<ellipse cx="103.9" cy="918.7" rx="12.3" ry="8.3" fill="#1424ff"/>
<ellipse cx="124.1" cy="905.9" rx="8.3" ry="9.3" fill="#0101da"/>
<ellipse cx="58.8" cy="928.9" rx="9.3" ry="8.3" fill="#0101da"/>
<ellipse cx="56.9" cy="939.9" rx="10.3" ry="8.3" fill="#0101da"/>
<ellipse cx="70.7" cy="931.6" rx="10.3" ry="9.3" fill="#0101da"/>
<ellipse cx="43.1" cy="951.9" rx="12.0" ry="9.9" fill="#3252ff"/>
<ellipse cx="108.5" cy="933.5" rx="6.2" ry="4.5" fill="#0303f8"/>
<ellipse cx="108.5" cy="943.6" rx="3.7" ry="3.1" fill="#0303f8"/>
<ellipse cx="101.1" cy="942.1" rx="2.0" ry="2.0" fill="#0101da"/>
<ellipse cx="127.8" cy="998.8" rx="8.3" ry="10.3" fill="#0000ae"/>
<ellipse cx="20.1" cy="1011.7" rx="7.2" ry="7.2" fill="#0303f8"/>
<ellipse cx="148.5" cy="879.2" rx="11.3" ry="9.3" fill="#0101da"/>
<ellipse cx="147.6" cy="893.9" rx="13.4" ry="11.3" fill="#0303f8"/>
<ellipse cx="143.9" cy="908.6" rx="10.3" ry="9.3" fill="#0101da"/>
<ellipse cx="156.8" cy="916.0" rx="14.4" ry="11.3" fill="#0303f8"/>
<ellipse cx="167.9" cy="928.9" rx="16.5" ry="12.3" fill="#0303f8"/>
<ellipse cx="156.8" cy="935.3" rx="11.3" ry="9.3" fill="#0303f8"/>
<ellipse cx="186.3" cy="927.0" rx="12.3" ry="10.3" fill="#0303f8"/>
<ellipse cx="197.3" cy="938.1" rx="12.3" ry="12.3" fill="#0303f8"/>
<ellipse cx="208.3" cy="949.1" rx="14.4" ry="12.3" fill="#0303f8"/>
<ellipse cx="199.1" cy="952.8" rx="8.3" ry="8.3" fill="#0303f8"/>
<ellipse cx="217.6" cy="936.2" rx="11.3" ry="10.3" fill="#0303f8"/>
<ellipse cx="230.4" cy="939.9" rx="11.3" ry="9.3" fill="#0303f8"/>
<ellipse cx="178.9" cy="905.9" rx="7.2" ry="6.8" fill="#1424ff"/>
<ellipse cx="175.2" cy="953.7" rx="4.5" ry="4.5" fill="#0303f8"/>
<ellipse cx="180.7" cy="949.1" rx="2.0" ry="2.0" fill="#0303f8"/>
<ellipse cx="185.3" cy="952.8" rx="3.1" ry="4.1" fill="#0303f8"/>
<ellipse cx="130.1" cy="998.8" rx="10.3" ry="9.3" fill="#0000ae"/>
<ellipse cx="143.9" cy="1000.7" rx="10.3" ry="8.3" fill="#0000ae"/>
<ellipse cx="159.6" cy="1004.3" rx="11.3" ry="9.3" fill="#0000ae"/>
<ellipse cx="173.4" cy="1009.9" rx="10.3" ry="8.3" fill="#0000ae"/>
<ellipse cx="236.0" cy="1019.4" rx="8.3" ry="3.1" fill="#0000ae"/>
<ellipse cx="233.7" cy="940.8" rx="10.3" ry="8.3" fill="#0101da"/>
<ellipse cx="265.9" cy="900.3" rx="9.3" ry="8.3" fill="#0101da"/>
<ellipse cx="276.0" cy="910.5" rx="11.3" ry="10.3" fill="#0101da"/>
<ellipse cx="270.5" cy="925.2" rx="11.3" ry="10.3" fill="#0101da"/>
<ellipse cx="288.9" cy="906.8" rx="11.3" ry="9.3" fill="#0101da"/>
<ellipse cx="303.6" cy="905.9" rx="12.3" ry="9.3" fill="#0101da"/>
<ellipse cx="316.5" cy="906.8" rx="10.3" ry="9.3" fill="#0101da"/>
<ellipse cx="320.2" cy="949.1" rx="15.5" ry="17.5" fill="#1424ff"/>
<ellipse cx="311.0" cy="938.1" rx="10.3" ry="10.3" fill="#0303f8"/>
<ellipse cx="329.4" cy="938.1" rx="10.3" ry="10.3" fill="#0303f8"/>
<ellipse cx="285.2" cy="982.2" rx="10.3" ry="9.3" fill="#0101da"/>
<ellipse cx="302.7" cy="980.4" rx="12.3" ry="11.3" fill="#0303f8"/>
<ellipse cx="318.3" cy="978.6" rx="10.3" ry="10.3" fill="#0303f8"/>
<ellipse cx="312.8" cy="997.0" rx="12.3" ry="11.3" fill="#0101da"/>
<ellipse cx="327.6" cy="993.3" rx="12.3" ry="11.3" fill="#0101da"/>
<ellipse cx="340.4" cy="997.0" rx="9.3" ry="11.3" fill="#0101da"/>
<ellipse cx="333.1" cy="1009.9" rx="10.3" ry="9.3" fill="#0101da"/>
<ellipse cx="298.1" cy="993.3" rx="8.3" ry="8.3" fill="#0101da"/>
<ellipse cx="247.5" cy="994.8" rx="7.8" ry="7.2" fill="#0303f8"/>
<ellipse cx="306.4" cy="838.3" rx="9.9" ry="4.9" fill="#0101da"/>
<ellipse cx="235.5" cy="1019.4" rx="12.3" ry="3.1" fill="#0000ae"/>
</g>
</g>
<g filter="url(#soft)">
<text x="18.40" y="854.50" font-size="14" text-anchor="start" fill="#fff" stroke="#fff" stroke-width="0.3">F</text>
<text x="341.40" y="854.50" font-size="14.5" text-anchor="end" fill="#fff" stroke="#fff" stroke-width="0.3" letter-spacing="0.5">rhBMP4</text>
<text x="18.60" y="1011.80" font-size="14.8" text-anchor="start" fill="#2d4ff0" stroke="#2d4ff0" stroke-width="0">DAPI</text>
<path d="M61.9 841.4L55.8 847.6" stroke="#fff" stroke-width="2.2" fill="none"/><path d="M50.5 852.9L52.7 844.4L58.9 850.7Z" fill="#fff"/>
<path d="M91.0 959.8L97.3 952.8" stroke="#fff" stroke-width="2.2" fill="none"/><path d="M102.4 947.3L100.6 955.8L94.1 949.9Z" fill="#fff"/>
<path d="M168.2 971.6L174.5 964.9" stroke="#fff" stroke-width="2.2" fill="none"/><path d="M179.6 959.4L177.7 967.9L171.3 961.9Z" fill="#fff"/>
<path d="M182.9 899.1L188.5 887.5L194.5 891.7Z" fill="#fff"/>
<path d="M251.7 987.4L257.6 975.3L263.1 979.5Z" fill="#fff"/>
</g>
<g clip-path="url(#clipG)">
<rect x="448.2" y="646" width="207" height="181.7" fill="#000300"/>
<g filter="url(#b3)">
<ellipse cx="623.3" cy="686.6" rx="17.1" ry="15.5" fill="#0f7a0f" fill-opacity="0.4"/>
<ellipse cx="463.3" cy="762.7" rx="17.1" ry="17.1" fill="#0f7a0f" fill-opacity="0.55"/>
<ellipse cx="601.6" cy="742.5" rx="9.9" ry="17.1" fill="#0c5c0c" fill-opacity="0.45"/>
</g>
<g filter="url(#b2)">
<ellipse cx="472.6" cy="680.4" rx="8.6" ry="10.2" fill="#178e17" fill-opacity="0.65"/>
<ellipse cx="495.3" cy="692.2" rx="6.8" ry="8.6" fill="#127812" fill-opacity="0.65" transform="rotate(-15 495.3 692.2)"/>
<ellipse cx="512.1" cy="705.9" rx="6.2" ry="8.2" fill="#127812" fill-opacity="0.65" transform="rotate(-20 512.1 705.9)"/>
<ellipse cx="523.3" cy="709.0" rx="6.8" ry="6.8" fill="#127812" fill-opacity="0.65"/>
<ellipse cx="533.2" cy="710.9" rx="7.5" ry="6.2" fill="#127812" fill-opacity="0.65" transform="rotate(10 533.2 710.9)"/>
<ellipse cx="527.0" cy="691.6" rx="4.1" ry="4.8" fill="#063806" fill-opacity="0.65"/>
<ellipse cx="524.5" cy="726.4" rx="5.2" ry="6.8" fill="#127812" fill-opacity="0.65"/>
<ellipse cx="555.6" cy="679.8" rx="6.8" ry="10.9" fill="#127812" fill-opacity="0.65" transform="rotate(10 555.6 679.8)"/>
<ellipse cx="579.2" cy="689.7" rx="8.6" ry="9.2" fill="#127812" fill-opacity="0.65" transform="rotate(20 579.2 689.7)"/>
<ellipse cx="549.4" cy="717.7" rx="5.5" ry="6.2" fill="#127812" fill-opacity="0.65"/>
<ellipse cx="504.6" cy="747.2" rx="8.6" ry="8.6" fill="#0c600c" fill-opacity="0.65"/>
<ellipse cx="626.5" cy="684.1" rx="10.9" ry="10.2" fill="#178e17" fill-opacity="0.65"/>
<ellipse cx="621.2" cy="695.9" rx="10.2" ry="7.5" fill="#127812" fill-opacity="0.65" transform="rotate(-10 621.2 695.9)"/>
<ellipse cx="614.0" cy="686.6" rx="6.8" ry="8.6" fill="#178e17" fill-opacity="0.65"/>
<ellipse cx="581.4" cy="720.8" rx="6.8" ry="7.5" fill="#084808" fill-opacity="0.65"/>
<ellipse cx="599.4" cy="722.3" rx="9.6" ry="7.5" fill="#127812" fill-opacity="0.65"/>
<ellipse cx="584.5" cy="735.7" rx="7.5" ry="9.6" fill="#127812" fill-opacity="0.65"/>
<ellipse cx="616.5" cy="731.7" rx="7.5" ry="9.6" fill="#127812" fill-opacity="0.65" transform="rotate(-20 616.5 731.7)"/>
<ellipse cx="626.5" cy="742.5" rx="7.5" ry="10.9" fill="#127812" fill-opacity="0.65" transform="rotate(30 626.5 742.5)"/>
<ellipse cx="640.4" cy="757.5" rx="7.5" ry="11.7" fill="#127812" fill-opacity="0.65" transform="rotate(-10 640.4 757.5)"/>
<ellipse cx="638.9" cy="746.6" rx="5.2" ry="5.2" fill="#127812" fill-opacity="0.65"/>
<ellipse cx="463.0" cy="757.5" rx="8.2" ry="8.9" fill="#127812" fill-opacity="0.65"/>
<ellipse cx="459.3" cy="770.5" rx="10.2" ry="8.6" fill="#178e17" fill-opacity="0.65"/>
<ellipse cx="472.3" cy="769.9" rx="7.2" ry="9.2" fill="#127812" fill-opacity="0.65"/>
<ellipse cx="557.5" cy="773.6" rx="6.2" ry="8.6" fill="#127812" fill-opacity="0.65" transform="rotate(-10 557.5 773.6)"/>
<ellipse cx="578.3" cy="762.7" rx="7.5" ry="8.6" fill="#084808" fill-opacity="0.65"/>
<ellipse cx="618.7" cy="786.1" rx="8.6" ry="8.6" fill="#127812" fill-opacity="0.65"/>
<ellipse cx="630.2" cy="776.7" rx="6.8" ry="8.6" fill="#084808" fill-opacity="0.65" transform="rotate(20 630.2 776.7)"/>
<ellipse cx="613.4" cy="801.6" rx="6.8" ry="9.6" fill="#127812" fill-opacity="0.65" transform="rotate(15 613.4 801.6)"/>
<ellipse cx="550.3" cy="782.9" rx="3.4" ry="3.4" fill="#032803" fill-opacity="0.65"/>
</g>
<g filter="url(#b08)">
<ellipse cx="472.6" cy="680.4" rx="7.6" ry="9.0" fill="#178e17" fill-opacity="0.95" stroke="#178e17" stroke-width="0.55"/>
<ellipse cx="495.3" cy="692.2" rx="6.0" ry="7.6" fill="#127812" fill-opacity="0.95" stroke="#2fac2f" stroke-width="1.1" transform="rotate(-15 495.3 692.2)"/>
<ellipse cx="512.1" cy="705.9" rx="5.4" ry="7.3" fill="#127812" fill-opacity="0.95" stroke="#178e17" stroke-width="1.1" transform="rotate(-20 512.1 705.9)"/>
<ellipse cx="523.3" cy="709.0" rx="6.0" ry="6.0" fill="#127812" fill-opacity="0.95" stroke="#178e17" stroke-width="1.1"/>
<ellipse cx="533.2" cy="710.9" rx="6.6" ry="5.4" fill="#127812" fill-opacity="0.95" stroke="#2fac2f" stroke-width="1.1" transform="rotate(10 533.2 710.9)"/>
<ellipse cx="527.0" cy="691.6" rx="3.6" ry="4.3" fill="#063806" fill-opacity="0.95" stroke="#0a5a0a" stroke-width="0.55"/>
<ellipse cx="524.5" cy="726.4" rx="4.6" ry="6.0" fill="#127812" fill-opacity="0.95" stroke="#178e17" stroke-width="1.1"/>
<ellipse cx="555.6" cy="679.8" rx="6.0" ry="9.6" fill="#127812" fill-opacity="0.95" stroke="#2fac2f" stroke-width="1.1" transform="rotate(10 555.6 679.8)"/>
<ellipse cx="579.2" cy="689.7" rx="7.6" ry="8.1" fill="#127812" fill-opacity="0.95" stroke="#52cf52" stroke-width="1.32" transform="rotate(20 579.2 689.7)"/>
<ellipse cx="549.4" cy="717.7" rx="4.8" ry="5.4" fill="#127812" fill-opacity="0.95" stroke="#178e17" stroke-width="0.83"/>
<ellipse cx="504.6" cy="747.2" rx="7.6" ry="7.6" fill="#0c600c" fill-opacity="0.95" stroke="#178e17" stroke-width="0.66"/>
<ellipse cx="626.5" cy="684.1" rx="9.6" ry="9.0" fill="#178e17" fill-opacity="0.95" stroke="#2fac2f" stroke-width="1.1"/>
<ellipse cx="621.2" cy="695.9" rx="9.0" ry="6.6" fill="#127812" fill-opacity="0.95" stroke="#52cf52" stroke-width="1.32" transform="rotate(-10 621.2 695.9)"/>
<ellipse cx="614.0" cy="686.6" rx="6.0" ry="7.6" fill="#178e17" fill-opacity="0.95" stroke="#2fac2f" stroke-width="0.83"/>
<ellipse cx="581.4" cy="720.8" rx="6.0" ry="6.6" fill="#084808" fill-opacity="0.95" stroke="#178e17" stroke-width="0.83"/>
<ellipse cx="599.4" cy="722.3" rx="8.4" ry="6.6" fill="#127812" fill-opacity="0.95" stroke="#2fac2f" stroke-width="1.1"/>
<ellipse cx="584.5" cy="735.7" rx="6.6" ry="8.4" fill="#127812" fill-opacity="0.95" stroke="#2fac2f" stroke-width="1.1"/>
<ellipse cx="616.5" cy="731.7" rx="6.6" ry="8.4" fill="#127812" fill-opacity="0.95" stroke="#2fac2f" stroke-width="1.1" transform="rotate(-20 616.5 731.7)"/>
<ellipse cx="626.5" cy="742.5" rx="6.6" ry="9.6" fill="#127812" fill-opacity="0.95" stroke="#2fac2f" stroke-width="1.1" transform="rotate(30 626.5 742.5)"/>
<ellipse cx="640.4" cy="757.5" rx="6.6" ry="10.3" fill="#127812" fill-opacity="0.95" stroke="#52cf52" stroke-width="1.1" transform="rotate(-10 640.4 757.5)"/>
<ellipse cx="638.9" cy="746.6" rx="4.6" ry="4.6" fill="#127812" fill-opacity="0.95" stroke="#178e17" stroke-width="0.83"/>
<ellipse cx="463.0" cy="757.5" rx="7.3" ry="7.9" fill="#127812" fill-opacity="0.95" stroke="#178e17" stroke-width="1.1"/>
<ellipse cx="459.3" cy="770.5" rx="9.0" ry="7.6" fill="#178e17" fill-opacity="0.95" stroke="#52cf52" stroke-width="1.43"/>
<ellipse cx="472.3" cy="769.9" rx="6.3" ry="8.1" fill="#127812" fill-opacity="0.95" stroke="#2fac2f" stroke-width="1.1"/>
<ellipse cx="557.5" cy="773.6" rx="5.4" ry="7.6" fill="#127812" fill-opacity="0.95" stroke="#52cf52" stroke-width="1.1" transform="rotate(-10 557.5 773.6)"/>
<ellipse cx="578.3" cy="762.7" rx="6.6" ry="7.6" fill="#084808" fill-opacity="0.95" stroke="#178e17" stroke-width="0.66"/>
<ellipse cx="618.7" cy="786.1" rx="7.6" ry="7.6" fill="#127812" fill-opacity="0.95" stroke="#2fac2f" stroke-width="1.1"/>
<ellipse cx="630.2" cy="776.7" rx="6.0" ry="7.6" fill="#084808" fill-opacity="0.95" stroke="#0f6e0f" stroke-width="0.83" transform="rotate(20 630.2 776.7)"/>
<ellipse cx="613.4" cy="801.6" rx="6.0" ry="8.4" fill="#127812" fill-opacity="0.95" stroke="#2fac2f" stroke-width="1.1" transform="rotate(15 613.4 801.6)"/>
<ellipse cx="550.3" cy="782.9" rx="3.0" ry="3.0" fill="#032803" fill-opacity="0.95" stroke="#053a05" stroke-width="0.55"/>
</g>
</g>
<g filter="url(#soft)">
<text x="455.20" y="660.80" font-size="14" text-anchor="start" fill="#fff" stroke="#fff" stroke-width="0.3">G</text>
<text x="647.00" y="660.60" font-size="14.5" text-anchor="end" fill="#fff" stroke="#fff" stroke-width="0.3" letter-spacing="0.15">ctr.</text>
<text x="455.40" y="819.20" font-size="14.7" text-anchor="start" fill="#9cd632" stroke="#9cd632" stroke-width="0">BrDU</text>
</g>
<g clip-path="url(#clipH)">
<rect x="448.8" y="839.2" width="208.2" height="182.9" fill="#000300"/>
<g filter="url(#b3)">
<ellipse cx="561.2" cy="967.6" rx="10.9" ry="15.5" fill="#0c5c0c" fill-opacity="0.4"/>
<ellipse cx="530.1" cy="883.7" rx="18.6" ry="21.8" fill="#063806" fill-opacity="0.3"/>
<ellipse cx="471.1" cy="936.5" rx="24.9" ry="21.8" fill="#063806" fill-opacity="0.3"/>
</g>
<g filter="url(#b2)">
<ellipse cx="483.5" cy="861.3" rx="8.6" ry="6.8" fill="#127812" fill-opacity="0.65" transform="rotate(-10 483.5 861.3)"/>
<ellipse cx="494.4" cy="849.5" rx="6.8" ry="5.2" fill="#127812" fill-opacity="0.65"/>
<ellipse cx="498.4" cy="862.0" rx="6.8" ry="7.5" fill="#127812" fill-opacity="0.65"/>
<ellipse cx="523.9" cy="867.6" rx="7.5" ry="8.6" fill="#127812" fill-opacity="0.65"/>
<ellipse cx="533.2" cy="872.8" rx="6.2" ry="6.8" fill="#084808" fill-opacity="0.65"/>
<ellipse cx="540.1" cy="885.3" rx="8.6" ry="8.6" fill="#178e17" fill-opacity="0.65"/>
<ellipse cx="525.5" cy="900.8" rx="7.5" ry="12.0" fill="#127812" fill-opacity="0.65" transform="rotate(-10 525.5 900.8)"/>
<ellipse cx="523.9" cy="889.9" rx="5.2" ry="5.2" fill="#127812" fill-opacity="0.65"/>
<ellipse cx="598.5" cy="885.3" rx="8.6" ry="6.8" fill="#127812" fill-opacity="0.65" transform="rotate(20 598.5 885.3)"/>
<ellipse cx="607.8" cy="893.7" rx="6.8" ry="8.6" fill="#127812" fill-opacity="0.65" transform="rotate(10 607.8 893.7)"/>
<ellipse cx="584.5" cy="911.7" rx="8.6" ry="8.6" fill="#084808" fill-opacity="0.65"/>
<ellipse cx="628.9" cy="916.3" rx="5.2" ry="8.6" fill="#084808" fill-opacity="0.65" transform="rotate(10 628.9 916.3)"/>
<ellipse cx="455.5" cy="924.1" rx="7.5" ry="7.5" fill="#084808" fill-opacity="0.65"/>
<ellipse cx="470.5" cy="927.2" rx="6.8" ry="8.6" fill="#127812" fill-opacity="0.65"/>
<ellipse cx="460.2" cy="936.5" rx="7.5" ry="6.8" fill="#084808" fill-opacity="0.65"/>
<ellipse cx="471.1" cy="938.1" rx="6.8" ry="6.2" fill="#127812" fill-opacity="0.65"/>
<ellipse cx="482.0" cy="947.4" rx="9.6" ry="8.6" fill="#127812" fill-opacity="0.65"/>
<ellipse cx="489.7" cy="935.0" rx="6.8" ry="6.2" fill="#042c04" fill-opacity="0.65"/>
<ellipse cx="502.2" cy="955.2" rx="8.6" ry="8.6" fill="#127812" fill-opacity="0.65"/>
<ellipse cx="519.2" cy="958.3" rx="9.6" ry="7.5" fill="#127812" fill-opacity="0.65"/>
<ellipse cx="506.8" cy="970.7" rx="5.2" ry="7.5" fill="#084808" fill-opacity="0.65"/>
<ellipse cx="519.2" cy="977.6" rx="8.6" ry="9.6" fill="#178e17" fill-opacity="0.65" transform="rotate(-10 519.2 977.6)"/>
<ellipse cx="478.8" cy="977.6" rx="9.2" ry="9.2" fill="#178e17" fill-opacity="0.65"/>
<ellipse cx="564.9" cy="934.1" rx="8.6" ry="7.5" fill="#127812" fill-opacity="0.65"/>
<ellipse cx="559.6" cy="946.5" rx="7.5" ry="8.6" fill="#127812" fill-opacity="0.65"/>
<ellipse cx="558.1" cy="966.1" rx="7.5" ry="10.2" fill="#0a4c0a" fill-opacity="0.65"/>
<ellipse cx="565.9" cy="978.5" rx="8.6" ry="8.6" fill="#127812" fill-opacity="0.65"/>
<ellipse cx="598.5" cy="980.1" rx="9.6" ry="8.6" fill="#127812" fill-opacity="0.65"/>
<ellipse cx="607.8" cy="989.4" rx="7.5" ry="7.5" fill="#127812" fill-opacity="0.65"/>
<ellipse cx="604.7" cy="1000.3" rx="8.6" ry="6.8" fill="#127812" fill-opacity="0.65"/>
<ellipse cx="637.3" cy="1007.4" rx="8.6" ry="8.6" fill="#127812" fill-opacity="0.65"/>
<ellipse cx="617.1" cy="899.3" rx="5.2" ry="5.2" fill="#032803" fill-opacity="0.65"/>
</g>
<g filter="url(#b08)">
<ellipse cx="483.5" cy="861.3" rx="7.6" ry="6.0" fill="#127812" fill-opacity="0.95" stroke="#178e17" stroke-width="1.1" transform="rotate(-10 483.5 861.3)"/>
<ellipse cx="494.4" cy="849.5" rx="6.0" ry="4.6" fill="#127812" fill-opacity="0.95" stroke="#178e17" stroke-width="0.83"/>
<ellipse cx="498.4" cy="862.0" rx="6.0" ry="6.6" fill="#127812" fill-opacity="0.95" stroke="#2fac2f" stroke-width="1.1"/>
<ellipse cx="523.9" cy="867.6" rx="6.6" ry="7.6" fill="#127812" fill-opacity="0.95" stroke="#178e17" stroke-width="1.1"/>
<ellipse cx="533.2" cy="872.8" rx="5.4" ry="6.0" fill="#084808" fill-opacity="0.95" stroke="#178e17" stroke-width="0.83"/>
<ellipse cx="540.1" cy="885.3" rx="7.6" ry="7.6" fill="#178e17" fill-opacity="0.95" stroke="#2fac2f" stroke-width="1.1"/>
<ellipse cx="525.5" cy="900.8" rx="6.6" ry="10.6" fill="#127812" fill-opacity="0.95" stroke="#52cf52" stroke-width="1.32" transform="rotate(-10 525.5 900.8)"/>
<ellipse cx="523.9" cy="889.9" rx="4.6" ry="4.6" fill="#127812" fill-opacity="0.95" stroke="#178e17" stroke-width="0.83"/>
<ellipse cx="598.5" cy="885.3" rx="7.6" ry="6.0" fill="#127812" fill-opacity="0.95" stroke="#2fac2f" stroke-width="1.1" transform="rotate(20 598.5 885.3)"/>
<ellipse cx="607.8" cy="893.7" rx="6.0" ry="7.6" fill="#127812" fill-opacity="0.95" stroke="#2fac2f" stroke-width="1.1" transform="rotate(10 607.8 893.7)"/>
<ellipse cx="584.5" cy="911.7" rx="7.6" ry="7.6" fill="#084808" fill-opacity="0.95" stroke="#2fac2f" stroke-width="0.66"/>
<ellipse cx="628.9" cy="916.3" rx="4.6" ry="7.6" fill="#084808" fill-opacity="0.95" stroke="#0f6e0f" stroke-width="0.83" transform="rotate(10 628.9 916.3)"/>
<ellipse cx="455.5" cy="924.1" rx="6.6" ry="6.6" fill="#084808" fill-opacity="0.95" stroke="#178e17" stroke-width="0.66"/>
<ellipse cx="470.5" cy="927.2" rx="6.0" ry="7.6" fill="#127812" fill-opacity="0.95" stroke="#178e17" stroke-width="1.1"/>
<ellipse cx="460.2" cy="936.5" rx="6.6" ry="6.0" fill="#084808" fill-opacity="0.95" stroke="#0f6e0f" stroke-width="0.83"/>
<ellipse cx="471.1" cy="938.1" rx="6.0" ry="5.4" fill="#127812" fill-opacity="0.95" stroke="#178e17" stroke-width="0.83"/>
<ellipse cx="482.0" cy="947.4" rx="8.4" ry="7.6" fill="#127812" fill-opacity="0.95" stroke="#178e17" stroke-width="0.83"/>
<ellipse cx="489.7" cy="935.0" rx="6.0" ry="5.4" fill="#042c04" fill-opacity="0.95" stroke="#074407" stroke-width="0.55"/>
<ellipse cx="502.2" cy="955.2" rx="7.6" ry="7.6" fill="#127812" fill-opacity="0.95" stroke="#52cf52" stroke-width="1.32"/>
<ellipse cx="519.2" cy="958.3" rx="8.4" ry="6.6" fill="#127812" fill-opacity="0.95" stroke="#2fac2f" stroke-width="1.1"/>
<ellipse cx="506.8" cy="970.7" rx="4.6" ry="6.6" fill="#084808" fill-opacity="0.95" stroke="#178e17" stroke-width="0.83"/>
<ellipse cx="519.2" cy="977.6" rx="7.6" ry="8.4" fill="#178e17" fill-opacity="0.95" stroke="#2fac2f" stroke-width="1.1" transform="rotate(-10 519.2 977.6)"/>
<ellipse cx="478.8" cy="977.6" rx="8.1" ry="8.1" fill="#178e17" fill-opacity="0.95" stroke="#2fac2f" stroke-width="0.83"/>
<ellipse cx="564.9" cy="934.1" rx="7.6" ry="6.6" fill="#127812" fill-opacity="0.95" stroke="#2fac2f" stroke-width="1.1"/>
<ellipse cx="559.6" cy="946.5" rx="6.6" ry="7.6" fill="#127812" fill-opacity="0.95" stroke="#2fac2f" stroke-width="1.1"/>
<ellipse cx="558.1" cy="966.1" rx="6.6" ry="9.0" fill="#0a4c0a" fill-opacity="0.95" stroke="#0f6e0f" stroke-width="0.83"/>
<ellipse cx="565.9" cy="978.5" rx="7.6" ry="7.6" fill="#127812" fill-opacity="0.95" stroke="#52cf52" stroke-width="1.32"/>
<ellipse cx="598.5" cy="980.1" rx="8.4" ry="7.6" fill="#127812" fill-opacity="0.95" stroke="#2fac2f" stroke-width="1.1"/>
<ellipse cx="607.8" cy="989.4" rx="6.6" ry="6.6" fill="#127812" fill-opacity="0.95" stroke="#178e17" stroke-width="1.1"/>
<ellipse cx="604.7" cy="1000.3" rx="7.6" ry="6.0" fill="#127812" fill-opacity="0.95" stroke="#2fac2f" stroke-width="1.1"/>
<ellipse cx="637.3" cy="1007.4" rx="7.6" ry="7.6" fill="#127812" fill-opacity="0.95" stroke="#52cf52" stroke-width="0.88"/>
<ellipse cx="617.1" cy="899.3" rx="4.6" ry="4.6" fill="#032803" fill-opacity="0.95" stroke="#053a05" stroke-width="0.55"/>
</g>
</g>
<g filter="url(#soft)">
<text x="455.40" y="854.80" font-size="14" text-anchor="start" fill="#fff" stroke="#fff" stroke-width="0.3">H</text>
<text x="647.40" y="854.90" font-size="14.5" text-anchor="end" fill="#fff" stroke="#fff" stroke-width="0.3" letter-spacing="0.5">rhBMP4</text>
<text x="455.40" y="1016.10" font-size="14.7" text-anchor="start" fill="#9cd632" stroke="#9cd632" stroke-width="0">BrDU</text>
</g>
</svg>
</body>
</html>
